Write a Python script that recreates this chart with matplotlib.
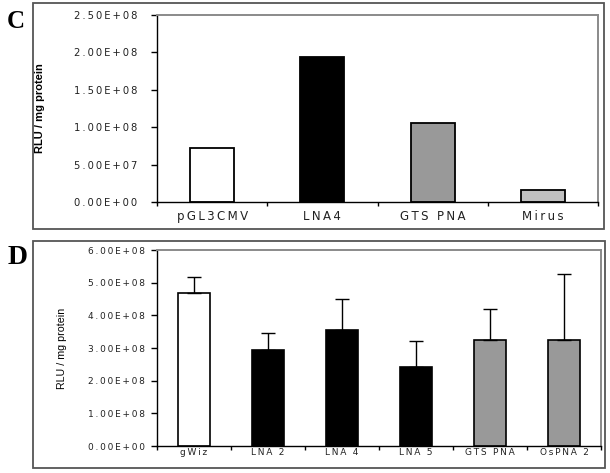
import matplotlib.pyplot as plt
from matplotlib.patches import Rectangle
from matplotlib.ticker import FuncFormatter, MultipleLocator
import numpy as np

# panel C: no error bars
c_labels = ["pGL3CMV", "LNA4", "GTS PNA", "Mirus"]
c_values = [7.25e7, 1.94e8, 1.05e8, 1.65e7]
c_colors = ["white", "black", "#999999", "#c0c0c0"]

# panel D: mean + upper error
d_labels = ["gWiz", "LNA 2", "LNA 4", "LNA 5", "GTS PNA", "OsPNA 2"]
d_values = [4.67e8, 2.94e8, 3.55e8, 2.43e8, 3.24e8, 3.24e8]
d_errors = [0.51e8, 0.53e8, 0.96e8, 0.79e8, 0.94e8, 2.03e8]
d_colors = ["white", "black", "black", "black", "#999999", "#999999"]

W, H = 610, 473
fig = plt.figure(figsize=(W / 100, H / 100), dpi=100)


def px_axes(l, t, r, b):
    return fig.add_axes([l / W, 1 - b / H, (r - l) / W, (b - t) / H])


def spaced(s):
    # the original figure uses wide letter spacing
    return "\u2009".join(s)


def sci(v, pos):
    m, e = f"{v:.2E}".split("E")
    return spaced(f"{m}E{e[0]}{int(e[1:]):02d}")


def style(ax, n):
    ax.set_xlim(0, n)
    ax.set_xticks(np.arange(n) + 0.5)
    ax.xaxis.set_minor_locator(MultipleLocator(1))
    ax.tick_params(axis="x", which="major", length=0)
    ax.tick_params(axis="x", which="minor", length=3, direction="out", width=1)
    ax.tick_params(axis="y", length=4, width=1, direction="out")
    for s in ["top", "right"]:
        ax.spines[s].set_color("#8a8a8a")
        ax.spines[s].set_linewidth(1.4)
    for s in ["left", "bottom"]:
        ax.spines[s].set_linewidth(1.0)
    ax.yaxis.set_major_formatter(FuncFormatter(sci))


# outer frames
for (l, t, r, b) in [(33, 3, 604, 229), (33, 241, 605, 468)]:
    fig.patches.append(Rectangle((l / W, 1 - b / H), (r - l) / W, (b - t) / H,
                                 transform=fig.transFigure, fill=False,
                                 edgecolor="#555555", linewidth=1.3))

# --- C ---
axc = px_axes(157, 15, 598, 202)
x = np.arange(len(c_labels)) + 0.5
axc.bar(x, c_values, width=0.4, color=c_colors, edgecolor="black", linewidth=1.3)
style(axc, len(c_labels))
axc.set_ylim(0, 2.5e8)
axc.yaxis.set_major_locator(MultipleLocator(5e7))
axc.set_xticklabels([spaced(s) for s in c_labels], fontsize=8.5, family="DejaVu Sans",
                    color="#222222")
axc.tick_params(axis="x", which="major", pad=6)
axc.tick_params(axis="y", labelsize=7.2, pad=10, labelcolor="#222222")
axc.set_ylabel("RLU / mg protein", family="Liberation Sans", fontweight="bold",
               fontsize=8)
axc.yaxis.set_label_coords((45 - 157) / 441, 0.5)

# --- D ---
axd = px_axes(157, 250, 601, 446)
x = np.arange(len(d_labels)) + 0.5
axd.bar(x, d_values, width=0.42, color=d_colors, edgecolor="black", linewidth=1.2,
        yerr=[np.zeros(len(d_errors)), d_errors],
        error_kw=dict(ecolor="black", elinewidth=1.0, capsize=5, capthick=1.0))
style(axd, len(d_labels))
axd.set_ylim(0, 6e8)
axd.yaxis.set_major_locator(MultipleLocator(1e8))
axd.set_xticklabels([spaced(s) for s in d_labels], fontsize=6.5,
                    family="DejaVu Sans", color="#222222")
axd.tick_params(axis="x", which="major", pad=1.5)
axd.tick_params(axis="y", labelsize=6.5, pad=5, labelcolor="#222222")
axd.set_ylabel("RLU / mg protein", family="Liberation Sans", fontsize=7.7)
axd.yaxis.set_label_coords((67 - 157) / 444, 0.5)

# panel letters
fig.text(16 / W, 1 - 21 / H, "C", family="Liberation Serif", fontweight="bold",
         fontsize=18, ha="center", va="center")
fig.text(18 / W, 1 - 257 / H, "D", family="Liberation Serif", fontweight="bold",
         fontsize=20, ha="center", va="center")

fig.savefig("out.png", dpi=100)
